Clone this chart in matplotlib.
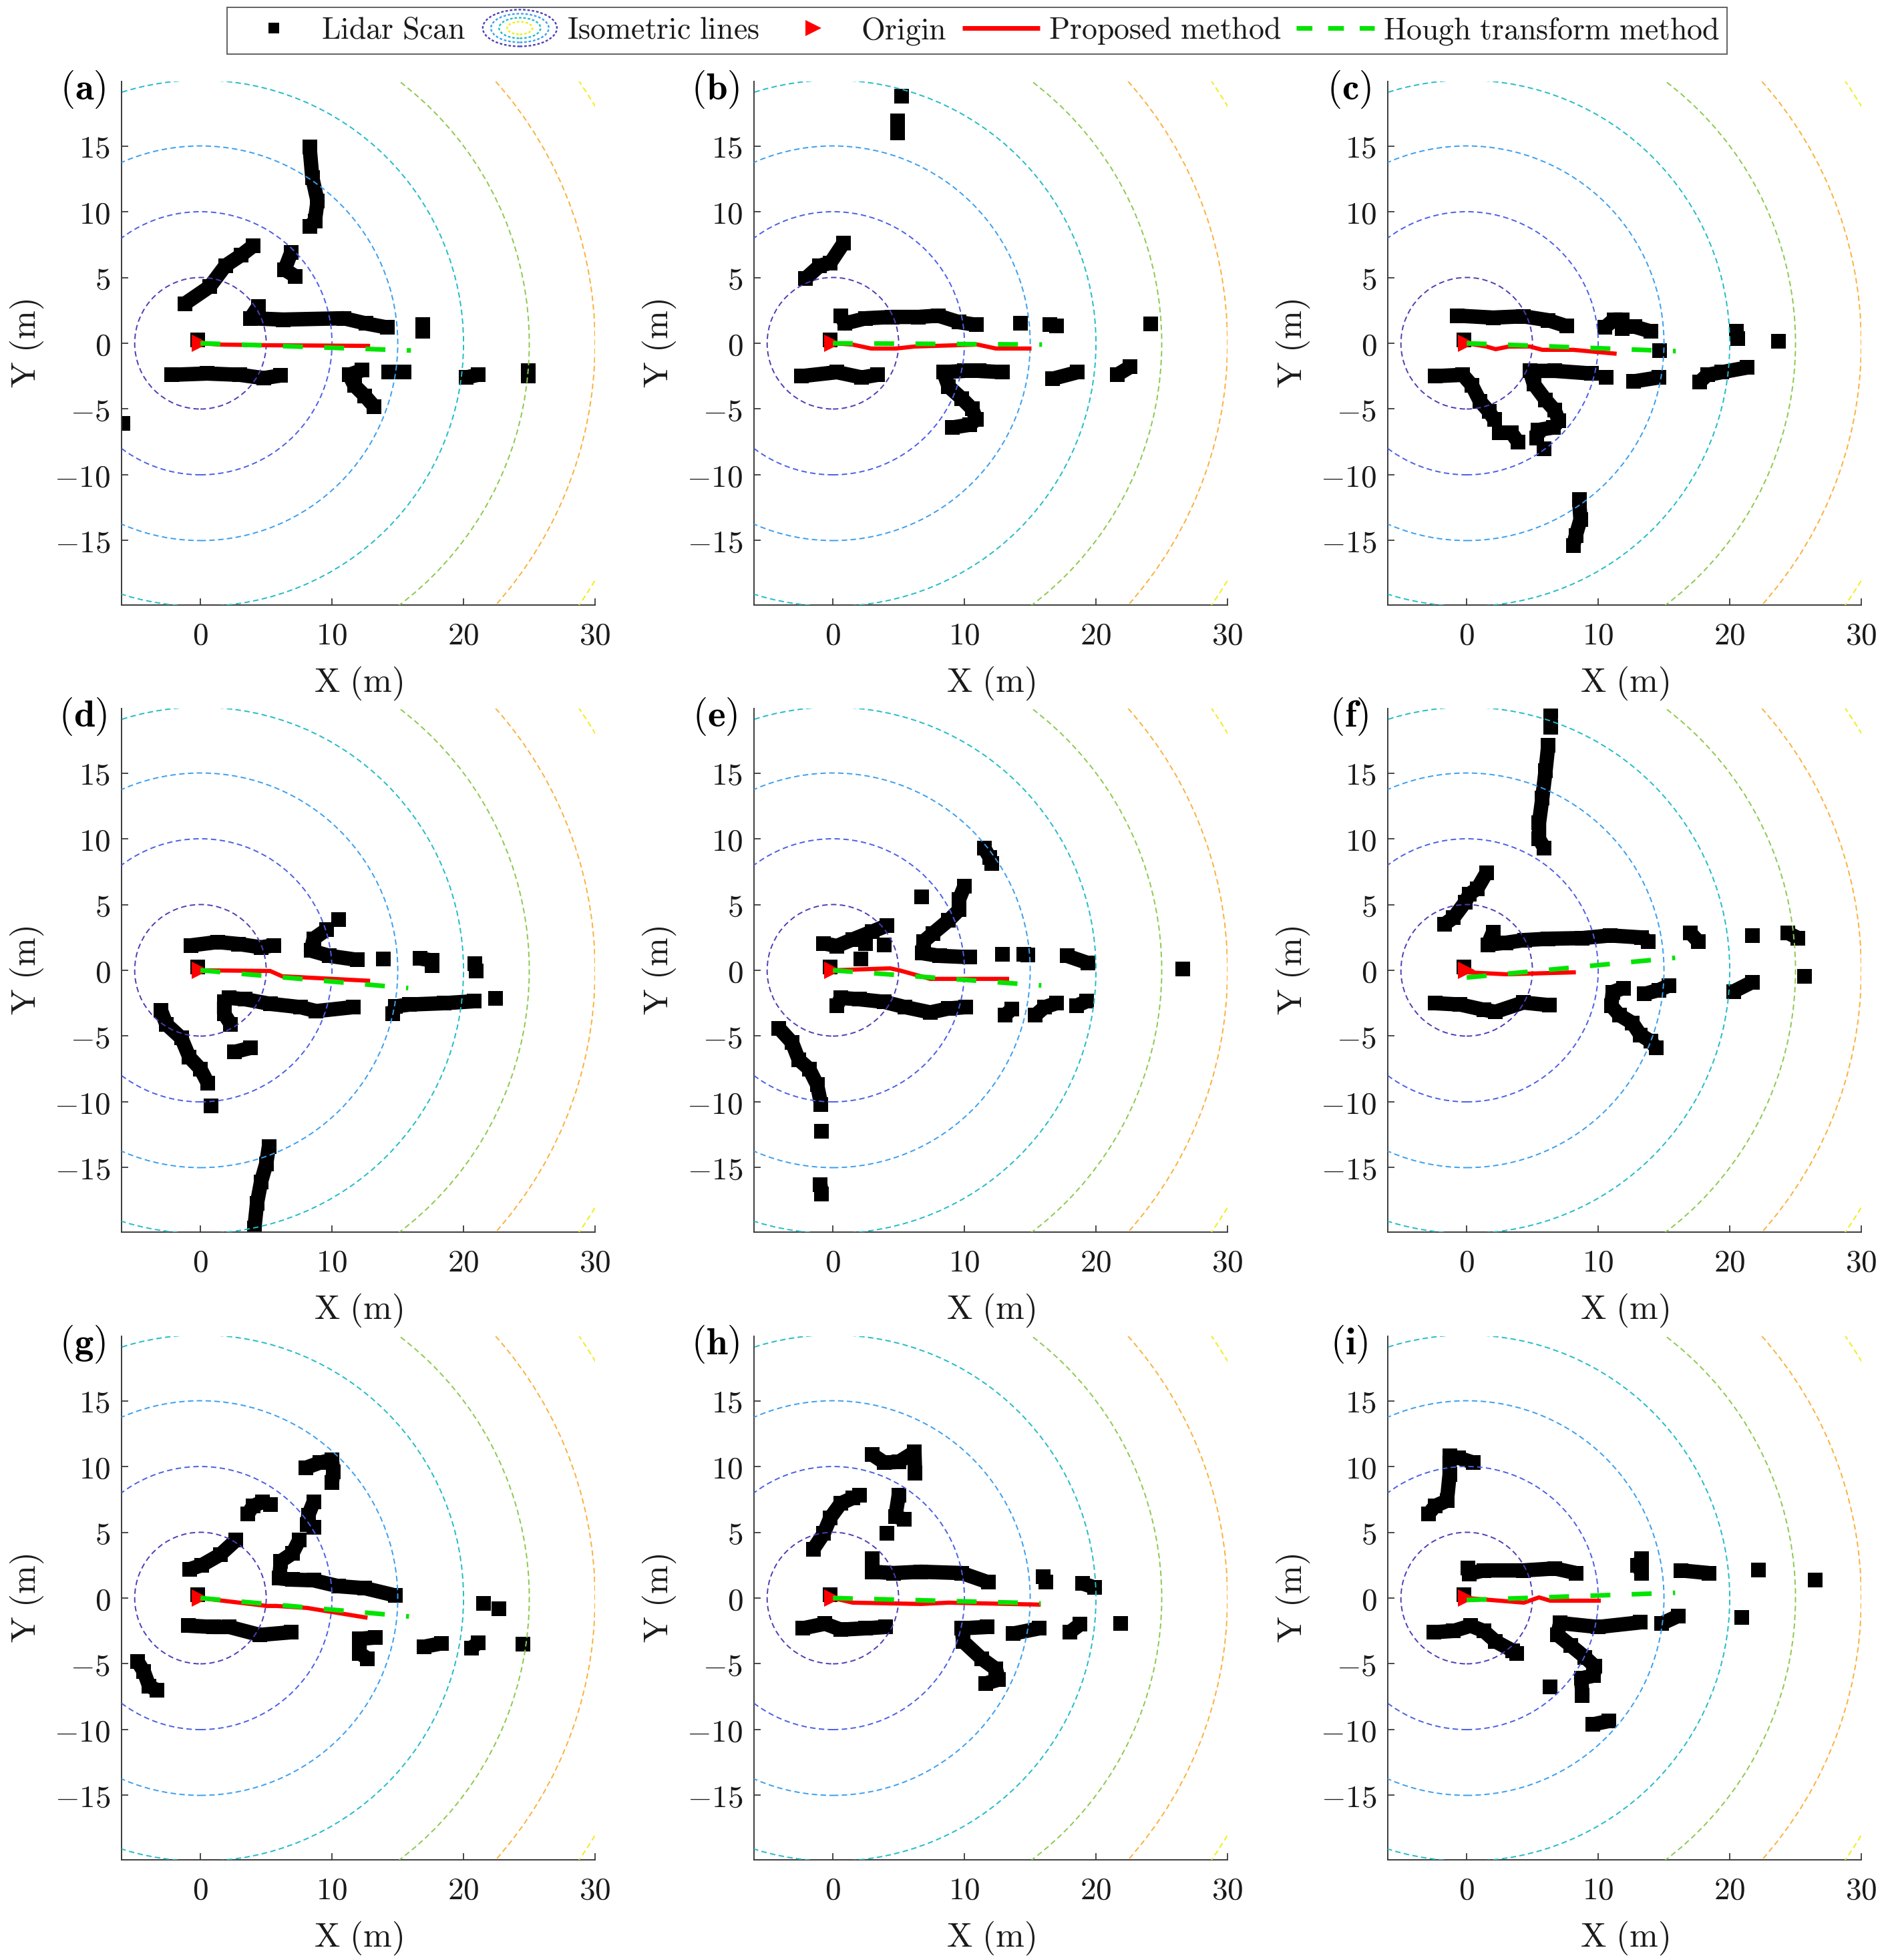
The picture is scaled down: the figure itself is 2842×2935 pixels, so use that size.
import matplotlib
matplotlib.use("Agg")
import matplotlib.pyplot as plt
from matplotlib.patches import Circle, Ellipse
from matplotlib.lines import Line2D
from matplotlib.legend_handler import HandlerBase

plt.rcParams['mathtext.fontset'] = 'cm'
plt.rcParams['font.family'] = ['DejaVu Serif']

# ---------------- data ----------------
radii = [5, 10, 15, 20, 25, 30, 35]
radius_colors = ['#4a3fb5', '#4b5fe6', '#3a9ff0', '#22bcc6', '#8cc94e', '#fbb13c', '#f0ee18']
xticks = [0, 10, 20, 30]
yticks = [-15, -10, -5, 0, 5, 10, 15]
xlim = (-6, 30)
ylim = (-19.9, 19.9)
panel_names = ['a', 'b', 'c', 'd', 'e', 'f', 'g', 'h', 'i']
legend_labels = ['Lidar Scan', 'Isometric lines', 'Origin', 'Proposed method', 'Hough transform method']

scan_a = [
    [(8.3, 14.9), (8.5, 12.6), (8.9, 10.8), (8.7, 9.3), (8.3, 8.9)],
    [(-1.2, 3.0), (0.7, 4.3), (1.9, 5.9), (3.1, 6.7), (4.0, 7.4)],
    [(6.9, 6.9), (6.4, 5.6), (7.2, 5.1)],
    [(4.4, 2.8), (3.8, 1.9), (6.3, 1.8), (10.9, 1.9), (12.6, 1.5), (14.2, 1.2)],
    [(16.9, 1.4), (16.9, 0.9)],
    [(-0.2, 0.25)],
    [(-2.2, -2.4), (0.5, -2.3), (3.0, -2.4), (4.8, -2.65), (6.1, -2.45)],
    [(-5.9, -6.1)],
    [(12.3, -2.05), (11.3, -2.4), (11.7, -3.2), (12.5, -4.0), (13.2, -4.8)],
    [(14.3, -2.2), (15.5, -2.2)],
    [(20.2, -2.6), (21.1, -2.4)],
    [(24.9, -2.1), (24.9, -2.5)],
]
proposed_a = [(0, 0), (1.5, -0.1), (5.0, -0.15), (12.9, -0.2)]
hough_a = [(0, 0), (16.0, -0.55)]

scan_b = [
    [(5.2, 18.8)],
    [(4.9, 16.9), (4.9, 16.0)],
    [(-2.1, 4.9), (-1.0, 5.9), (-0.2, 6.1), (0.8, 7.6)],
    [(0.6, 2.1), (0.9, 1.5), (2.5, 1.9), (4.5, 2.0), (6.5, 2.0), (8.0, 2.1), (9.6, 1.6), (10.9, 1.4)],
    [(14.25, 1.5)],
    [(16.5, 1.4), (17.0, 1.3)],
    [(24.15, 1.45)],
    [(-0.2, 0.25)],
    [(-2.4, -2.5), (0.3, -2.2), (2.2, -2.6), (3.4, -2.4)],
    [(10.0, -2.1), (8.4, -2.2), (8.8, -3.3), (9.8, -4.2), (10.6, -5.0), (10.9, -5.8), (10.4, -6.2), (9.1, -6.4)],
    [(11.1, -2.1), (12.9, -2.2)],
    [(16.7, -2.7), (18.6, -2.2)],
    [(21.6, -2.4), (22.6, -1.8)],
]
proposed_b = [(0, 0), (1.5, -0.1), (2.9, -0.4), (4.8, -0.4), (6.2, -0.25), (11.0, -0.1), (12.4, -0.4), (15.1, -0.4)]
hough_b = [(0, 0), (15.9, -0.1)]

scan_c = [
    [(-0.7, 2.1), (2.0, 1.95), (4.3, 2.05), (6.2, 1.75), (7.6, 1.3)],
    [(10.5, 1.2), (11.2, 1.8), (11.8, 1.8), (11.8, 1.1)],
    [(12.8, 1.25), (14.0, 0.9)],
    [(14.65, -0.55)],
    [(20.5, 0.9), (20.6, 0.35)],
    [(23.7, 0.15)],
    [(-0.2, 0.25)],
    [(-2.4, -2.5), (-0.3, -2.4), (0.4, -3.2), (1.0, -4.4), (1.7, -5.2), (2.1, -5.8)],
    [(2.5, -6.8), (3.4, -6.8), (3.9, -7.5)],
    [(9.5, -2.3), (6.7, -2.1), (4.8, -2.1), (5.1, -3.1), (6.0, -4.3), (6.7, -5.1), (7.0, -5.9), (6.6, -6.4), (5.4, -6.6), (5.3, -7.2)],
    [(5.9, -8.0)],
    [(10.6, -2.6)],
    [(12.7, -2.9), (14.6, -2.6)],
    [(17.7, -2.95), (18.3, -2.4), (19.4, -2.2), (21.3, -1.85)],
    [(8.55, -11.9), (8.65, -13.4), (8.3, -14.6), (8.1, -15.4)],
]
proposed_c = [(0, 0), (1.5, -0.25), (2.2, -0.45), (3.2, -0.25), (4.8, -0.25), (5.75, -0.5), (8.1, -0.5), (11.4, -0.8)]
hough_c = [(0, 0), (15.9, -0.6)]

scan_d = [
    [(-0.7, 1.9), (1.3, 2.15), (2.9, 2.0), (4.6, 1.75), (5.6, 1.9)],
    [(10.5, 3.85)],
    [(9.6, 3.1), (8.6, 2.4), (8.4, 1.5), (9.8, 1.1), (11.9, 0.8)],
    [(13.9, 0.85)],
    [(16.7, 0.9), (17.6, 0.75), (17.6, 0.35)],
    [(20.85, 0.5), (20.95, -0.05)],
    [(-0.2, 0.25)],
    [(2.3, -4.1), (1.8, -3.3), (1.8, -2.4), (2.2, -2.1), (3.4, -2.2), (5.3, -2.55), (7.6, -2.8), (8.8, -3.1), (11.6, -2.8)],
    [(14.6, -3.3), (14.8, -2.75), (15.9, -2.6), (18.5, -2.5), (20.8, -2.35)],
    [(22.45, -2.15)],
    [(2.6, -6.2), (3.8, -5.9)],
    [(-3.0, -3.05), (-2.6, -4.1), (-1.45, -5.15), (-0.85, -6.6), (0.0, -7.5), (0.57, -8.6)],
    [(0.8, -10.3)],
    [(5.2, -13.4), (5.0, -14.7), (4.6, -16.1), (4.3, -17.7), (4.1, -19.6)],
]
proposed_d = [(0, 0), (5.3, -0.05), (6.2, -0.45), (12.9, -0.8)]
hough_d = [(0, 0), (15.8, -1.35)]

scan_e = [
    [(-0.7, 2.05), (0.3, 1.85), (1.5, 2.35), (3.0, 2.95), (4.1, 3.4)],
    [(2.5, 2.05)],
    [(3.9, 1.95)],
    [(2.1, 0.87)],
    [(6.75, 5.6)],
    [(10.0, 6.4), (9.6, 5.4), (9.6, 4.6), (8.8, 3.8), (7.6, 2.8), (6.9, 2.2), (6.8, 1.3), (8.1, 1.1), (10.4, 1.0)],
    [(11.5, 9.3), (11.9, 8.6), (12.1, 8.1)],
    [(12.9, 1.2)],
    [(14.5, 1.2), (14.8, 1.15)],
    [(17.8, 1.1), (19.4, 0.55)],
    [(26.6, 0.1)],
    [(-0.2, 0.25)],
    [(0.3, -2.7), (0.6, -2.1), (2.0, -2.2), (3.9, -2.4), (5.5, -2.8), (7.4, -3.2), (8.8, -2.9), (10.1, -2.8)],
    [(13.1, -3.4), (13.6, -2.95)],
    [(15.4, -3.4), (16.1, -2.8), (17.0, -2.5)],
    [(18.5, -2.7), (19.3, -2.35)],
    [(-4.1, -4.4), (-3.1, -5.5), (-2.6, -6.8), (-1.8, -7.5), (-1.2, -8.7), (-0.9, -10.2)],
    [(-0.85, -12.25)],
    [(-0.95, -16.3), (-0.85, -17.0)],
]
proposed_e = [(0, 0), (4.35, 0.15), (5.05, 0.0), (7.4, -0.65), (13.4, -0.65)]
hough_e = [(0, 0), (15.85, -1.15)]

scan_f = [
    [(6.4, 19.7), (6.4, 18.5)],
    [(6.2, 17.1), (6.0, 15.2), (5.75, 13.1), (5.5, 11.2), (5.5, 10.0), (5.9, 9.3)],
    [(-1.7, 3.5), (-1.0, 4.0), (-0.1, 5.2), (0.2, 5.8), (0.8, 6.2), (1.5, 7.4)],
    [(2.0, 2.9), (1.6, 1.95), (3.0, 2.1), (4.4, 2.3), (6.2, 2.4), (8.8, 2.45), (10.9, 2.65), (13.3, 2.5), (13.8, 2.2)],
    [(17.0, 2.85), (17.6, 2.2)],
    [(21.7, 2.65)],
    [(24.4, 2.85), (25.2, 2.45)],
    [(25.7, -0.45)],
    [(20.3, -1.6), (21.7, -0.9)],
    [(13.5, -1.8), (14.6, -1.5), (15.4, -1.15)],
    [(11.9, -1.35), (11.1, -1.65), (11.0, -2.7), (11.6, -3.4), (12.6, -4.0), (13.2, -4.9), (14.0, -5.4), (14.4, -5.9)],
    [(-2.4, -2.5), (-0.5, -2.6), (1.3, -3.0), (2.2, -3.15), (4.3, -2.45), (6.3, -2.65)],
    [(-0.2, 0.25)],
]
proposed_f = [(0, -0.15), (3.0, -0.3), (8.3, -0.15)]
hough_f = [(0, -0.55), (15.85, 0.95)]

scan_g = [
    [(-0.8, 2.2), (0.1, 2.5), (1.5, 3.3), (2.7, 4.4)],
    [(3.6, 6.4), (4.0, 7.0), (4.7, 7.3), (5.3, 7.1)],
    [(8.0, 9.9), (9.1, 10.3), (10.0, 10.5), (10.1, 9.6), (10.0, 8.8)],
    [(8.6, 7.3), (8.2, 6.3), (8.1, 5.6), (8.6, 5.4)],
    [(7.5, 4.4), (7.0, 3.4), (6.1, 2.8), (6.0, 1.5), (7.0, 1.4), (8.6, 1.35), (10.5, 0.9), (12.5, 0.75), (14.8, 0.2)],
    [(21.5, -0.4)],
    [(22.7, -0.8)],
    [(-0.9, -2.1), (1.0, -2.2), (2.2, -2.2), (4.5, -2.8), (6.9, -2.6)],
    [(13.3, -3.0), (12.1, -3.1), (12.1, -4.2), (12.7, -4.6)],
    [(17.0, -3.7), (18.3, -3.45)],
    [(20.6, -3.8), (21.1, -3.4)],
    [(24.5, -3.5)],
    [(-4.8, -4.8), (-4.3, -5.6), (-3.9, -6.7), (-3.3, -7.0)],
    [(-0.2, 0.25)],
]
proposed_g = [(0, 0), (5.05, -0.6), (5.75, -0.6), (8.1, -0.75), (12.7, -1.5)]
hough_g = [(0, 0), (15.85, -1.4)]

scan_h = [
    [(3.0, 10.9), (3.9, 10.3), (5.0, 10.35), (6.2, 11.1), (6.25, 9.5)],
    [(-1.5, 3.7), (-0.7, 4.9), (-0.2, 6.1), (0.6, 7.2), (1.5, 7.6), (2.0, 7.8)],
    [(5.0, 7.8), (4.75, 6.2), (5.4, 6.0)],
    [(4.1, 4.9)],
    [(3.0, 3.0), (3.0, 2.0), (4.6, 1.9), (6.7, 2.0), (9.8, 1.9), (11.8, 1.2)],
    [(16.0, 1.6), (16.2, 1.2)],
    [(19.0, 1.1), (19.9, 0.8)],
    [(-2.3, -2.3), (-0.6, -1.95), (0.6, -2.4), (2.5, -2.3), (4.0, -2.2)],
    [(11.7, -2.2), (9.8, -2.3), (9.9, -3.3), (11.3, -4.6), (12.4, -5.4), (12.6, -6.2), (11.6, -6.5)],
    [(13.7, -2.7), (15.7, -2.3)],
    [(18.0, -2.6), (18.8, -2.0)],
    [(21.9, -1.95)],
    [(-0.2, 0.25)],
]
proposed_h = [(0, 0), (1.5, -0.35), (6.7, -0.45), (8.8, -0.35), (15.8, -0.5)]
hough_h = [(0, 0), (15.8, -0.4)]

scan_i = [
    [(0.5, 10.3), (-0.6, 10.65), (-1.3, 10.8), (-1.3, 9.4), (-1.5, 7.4), (-2.4, 7.0), (-2.9, 6.4)],
    [(0.1, 2.3), (0.2, 1.85), (1.3, 2.1), (4.3, 2.1), (6.7, 2.25), (8.3, 1.9)],
    [(13.3, 3.0), (13.0, 2.5), (13.3, 1.9)],
    [(16.3, 2.1), (18.4, 1.9)],
    [(22.2, 2.15)],
    [(26.5, 1.35)],
    [(20.9, -1.45)],
    [(14.8, -1.95), (16.1, -1.35)],
    [(13.2, -1.85), (10.0, -2.2), (7.1, -1.9), (6.9, -2.8), (7.9, -3.6), (9.0, -4.5), (9.75, -5.2), (9.65, -5.9), (8.7, -6.1), (8.8, -7.4)],
    [(6.35, -6.75)],
    [(9.6, -9.6), (10.8, -9.35)],
    [(-2.5, -2.6), (-1.0, -2.5), (0.3, -2.1), (1.3, -2.5), (2.2, -3.3), (3.5, -4.0), (3.8, -4.2)],
    [(-0.2, 0.25)],
]
proposed_i = [(0, 0), (4.35, -0.35), (5.5, 0.05), (6.35, -0.2), (10.2, -0.2)]
hough_i = [(0, -0.15), (15.85, 0.4)]

scans = [scan_a, scan_b, scan_c, scan_d, scan_e, scan_f, scan_g, scan_h, scan_i]
proposed = [proposed_a, proposed_b, proposed_c, proposed_d, proposed_e, proposed_f, proposed_g, proposed_h, proposed_i]
hough = [hough_a, hough_b, hough_c, hough_d, hough_e, hough_f, hough_g, hough_h, hough_i]

# ---------------- layout ----------------
W, H, DPI = 2842, 2935, 100
col_left = [182, 1129, 2078]
row_top = [122, 1061, 2001]
AX_W, AX_H = 709, 784

SPINE = '#3a3a3a'
TXT = '#1a1a1a'
RED = '#ff0000'
GREEN = '#00e400'

fig = plt.figure(figsize=(W / DPI, H / DPI), dpi=DPI)

for k, name in enumerate(panel_names):
    r, c = divmod(k, 3)
    ax = fig.add_axes([col_left[c] / W, 1 - (row_top[r] + AX_H) / H, AX_W / W, AX_H / H])

    for seg in scans[k]:
        xs = [p[0] for p in seg]
        ys = [p[1] for p in seg]
        ax.plot(xs, ys, color='k', lw=15.5, marker='s', ms=16.5, mew=0,
                solid_joinstyle='round', solid_capstyle='butt', zorder=2)

    for rad, col in zip(radii, radius_colors):
        ax.add_patch(Circle((0, 0), rad, fill=False, ec=col, lw=1.4,
                            ls=(0, (4.2, 2.6)), zorder=3))

    ax.plot([0], [0], ls='none', marker='>', color=RED, ms=19, mew=0, zorder=4)
    ax.plot([p[0] for p in proposed[k]], [p[1] for p in proposed[k]],
            color=RED, lw=4.5, solid_capstyle='butt', zorder=5)
    ax.plot([p[0] for p in hough[k]], [p[1] for p in hough[k]],
            color=GREEN, lw=5, ls=(0, (4.3, 4.6)), dash_capstyle='butt', zorder=6)

    ax.set_xlim(*xlim)
    ax.set_ylim(*ylim)
    ax.set_xticks(xticks, labels=[f'${v}$' for v in xticks])
    ax.set_yticks(yticks, labels=[f'${v}$' for v in yticks])
    for s in ['top', 'right']:
        ax.spines[s].set_visible(False)
    for s in ['left', 'bottom']:
        ax.spines[s].set_color(SPINE)
        ax.spines[s].set_linewidth(1.4)
    ax.tick_params(direction='in', length=7, width=1.3, color=SPINE,
                   labelsize=34, labelcolor=TXT)
    ax.tick_params(axis='x', pad=17)
    ax.tick_params(axis='y', pad=12)
    ax.set_xlabel(r'$\mathrm{X\ (m)}$', fontsize=37, color=TXT, va='center')
    ax.set_ylabel(r'$\mathrm{Y\ (m)}$', fontsize=37, color=TXT, va='center')
    ax.xaxis.set_label_coords(0.5, -117 / AX_H)
    ax.yaxis.set_label_coords(-142 / AX_W, 0.5)

    fig.text((col_left[c] - 58) / W, 1 - (row_top[r] + 12) / H,
             r'$\mathbf{(' + name + r')}$', fontsize=41, color='black',
             ha='center', va='center')


# ---------------- legend ----------------
class IsoProxy:
    pass


class IsoHandler(HandlerBase):
    def create_artists(self, legend, orig_handle, xdescent, ydescent,
                       width, height, fontsize, trans):
        cx = width / 2 - xdescent
        cy = height / 2 - ydescent
        arts = []
        for s, col in zip([1.0, 0.78, 0.56, 0.34],
                          [radius_colors[0], radius_colors[2], radius_colors[3], radius_colors[6]]):
            arts.append(Ellipse((cx, cy), width * 0.95 * s, fontsize * 1.2 * s,
                                fill=False, ec=col, lw=1.7, ls=(0, (1.6, 1.2)),
                                transform=trans))
        return arts


handles = [
    Line2D([], [], ls='none', marker='s', color='k', ms=12, mew=0),
    IsoProxy(),
    Line2D([], [], ls='none', marker='>', color=RED, ms=17, mew=0),
    Line2D([], [], color=RED, lw=5, solid_capstyle='butt'),
    Line2D([], [], color=GREEN, lw=5, ls=(0, (3.4, 3.4)), dash_capstyle='butt'),
]
labels = [r'$\mathrm{' + t.replace(' ', r'\ ') + '}$' for t in legend_labels]
leg = fig.legend(handles, labels, loc='center', ncol=5,
                 bbox_to_anchor=(1463 / W, 1 - 46 / H),
                 handler_map={IsoProxy: IsoHandler()},
                 fontsize=33, frameon=True, fancybox=False, shadow=False,
                 handlelength=2.55, handletextpad=0.27, columnspacing=0.5,
                 borderpad=0.25, borderaxespad=0, numpoints=1)
leg.get_frame().set_edgecolor(SPINE)
leg.get_frame().set_linewidth(1.4)
for t in leg.get_texts():
    t.set_color(TXT)

fig.savefig('out.png', dpi=DPI, facecolor='white')
